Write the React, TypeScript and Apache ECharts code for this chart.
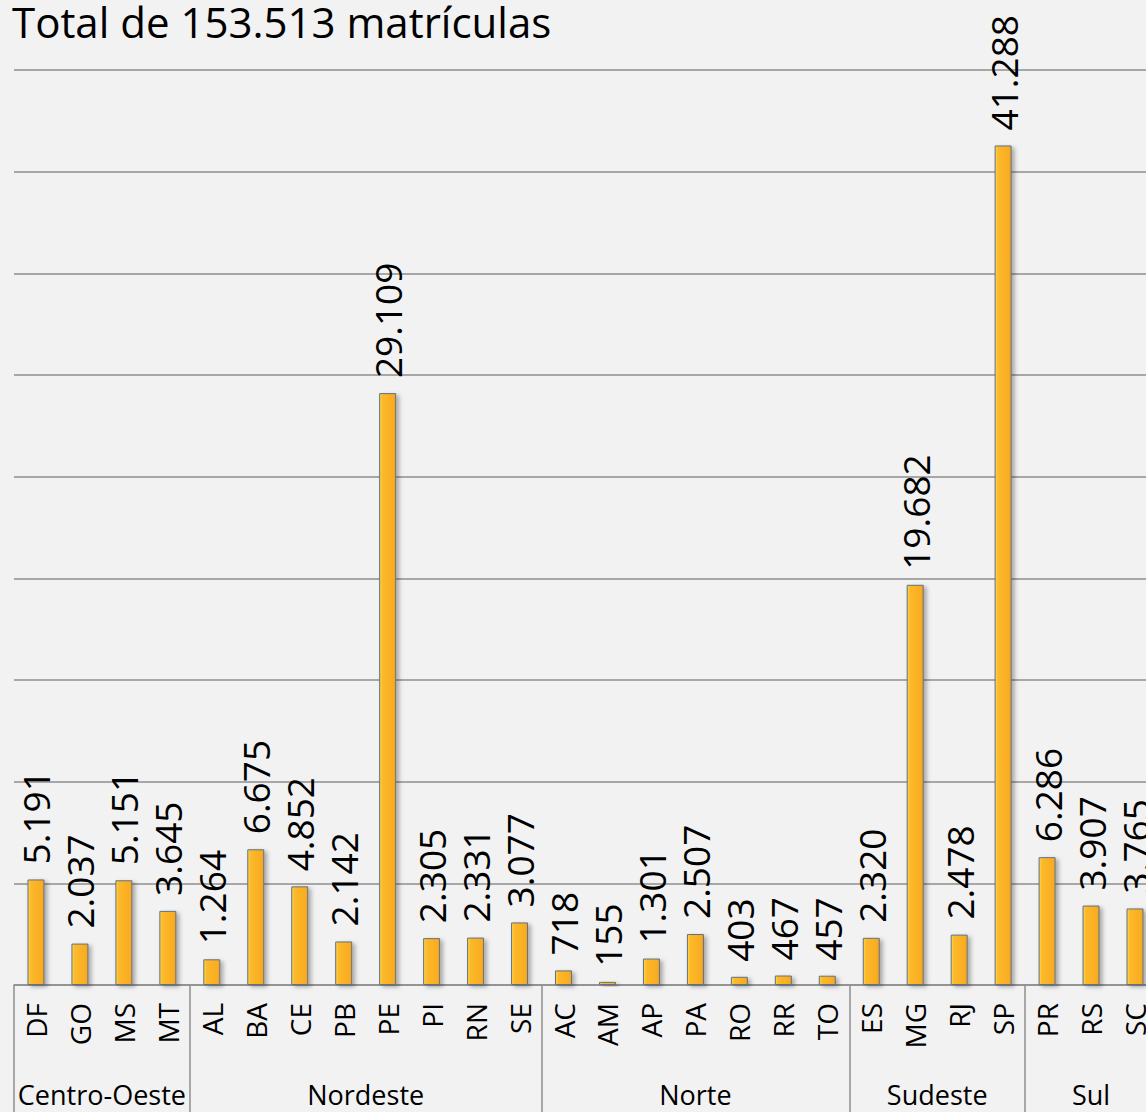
import React, { useEffect, useRef } from "react";
import * as echarts from "echarts";

const titleText = "Total de 153.513 matrículas";
const states = ["DF", "GO", "MS", "MT", "AL", "BA", "CE", "PB", "PE", "PI", "RN", "SE", "AC", "AM", "AP", "PA", "RO", "RR", "TO", "ES", "MG", "RJ", "SP", "PR", "RS", "SC"];
const enrolments = [5191, 2037, 5151, 3645, 1264, 6675, 4852, 2142, 29109, 2305, 2331, 3077, 718, 155, 1301, 2507, 403, 467, 457, 2320, 19682, 2478, 41288, 6286, 3907, 3765];
const regions = ["Centro-Oeste", "Nordeste", "Norte", "Sudeste", "Sul"];
const regionSizes = [4, 8, 7, 4, 3];
const yMax = 45000;
const yStep = 5000;

const FONT = "'Open Sans', 'Noto Sans', sans-serif";
const GRID_COLOR = "#8e8e8e";

const fmt = (v: number) => String(v).replace(/\B(?=(\d{3})+(?!\d))/g, ".");

export default function App() {
  const ref = useRef<HTMLDivElement>(null);
  useEffect(() => {
    if (!ref.current) return;
    const chart = echarts.init(ref.current, undefined, { renderer: "svg" });

    const bounds: number[] = [0];
    regionSizes.forEach((s, i) => bounds.push(bounds[i] + s));
    const centers = regionSizes.map((s, i) => bounds[i] + s / 2);

    chart.setOption({
      animation: false,
      backgroundColor: "#f2f2f2",
      title: {
        text: titleText,
        left: 12,
        top: 0,
        padding: 0,
        textStyle: { fontFamily: FONT, fontSize: 42, fontWeight: "normal", color: "#000" },
      },
      grid: { left: 14, top: 70, width: 1143, height: 915, containLabel: false },
      xAxis: [
        {
          type: "category",
          data: states,
          axisLine: { show: true, lineStyle: { color: GRID_COLOR, width: 1.5 } },
          axisTick: { show: false },
          axisLabel: { interval: 0, rotate: 90, fontFamily: FONT, fontSize: 28, color: "#000", margin: 18 },
        },
        {
          type: "value",
          min: 0,
          max: states.length,
          position: "bottom",
          axisLine: { show: false },
          splitLine: { show: false },
          axisTick: { show: true, customValues: bounds, length: 127, lineStyle: { color: GRID_COLOR, width: 1.5 } },
          axisLabel: {
            show: true,
            customValues: centers,
            margin: 95,
            fontFamily: FONT,
            fontSize: 27,
            lineHeight: 28,
            color: "#000",
            formatter: (v: number) => {
              const i = centers.findIndex((c) => Math.abs(c - v) < 1e-6);
              return i >= 0 ? regions[i] : "";
            },
          },
        },
      ],
      yAxis: {
        type: "value",
        min: 0,
        max: yMax,
        interval: yStep,
        axisLabel: { show: false },
        axisLine: { show: false },
        axisTick: { show: false },
        splitLine: { lineStyle: { color: GRID_COLOR, width: 1.5 } },
      },
      series: [
        {
          type: "bar",
          xAxisIndex: 0,
          data: enrolments,
          barWidth: 17,
          itemStyle: {
            color: new echarts.graphic.LinearGradient(0, 0, 1, 0, [
              { offset: 0, color: "#ffd84a" },
              { offset: 0.18, color: "#fcb92b" },
              { offset: 0.85, color: "#faac22" },
              { offset: 1, color: "#f4a01c" },
            ]),
            borderColor: "#5f7283",
            borderWidth: 1,
            shadowColor: "rgba(0,0,0,0.3)",
            shadowBlur: 4,
            shadowOffsetX: 3,
            shadowOffsetY: 2,
          },
          label: {
            show: true,
            position: "top",
            rotate: 90,
            align: "left",
            verticalAlign: "middle",
            distance: 15,
            fontFamily: FONT,
            fontSize: 37,
            color: "#000",
            formatter: (p: any) => fmt(p.value),
          },
        },
      ],
    });
    return () => chart.dispose();
  }, []);

  return (
    <div style={{ position: "fixed", left: 0, top: 0, width: 1146, height: 1112, overflow: "hidden", background: "#f2f2f2" }}>
      <div ref={ref} style={{ width: 1180, height: 1112 }} />
    </div>
  );
}
